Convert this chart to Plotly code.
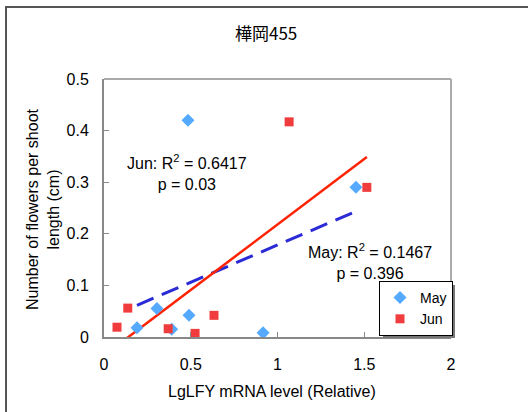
import numpy as np
import plotly.graph_objects as go

# Data
may_x = [0.19, 0.305, 0.39, 0.484, 0.49, 0.917, 1.452]
may_y = [0.018, 0.055, 0.015, 0.42, 0.042, 0.008, 0.29]
jun_x = [0.075, 0.137, 0.37, 0.525, 0.634, 1.067, 1.515]
jun_y = [0.019, 0.056, 0.016, 0.007, 0.042, 0.417, 0.29]

x_ticks = [0, 0.5, 1, 1.5, 2]
x_tick_labels = ["0", "0.5", "1", "1.5", "2"]
y_ticks = [0, 0.1, 0.2, 0.3, 0.4, 0.5]
y_tick_labels = ["0", "0.1", "0.2", "0.3", "0.4", "0.5"]

title_text = "樺岡455"
x_title = "LgLFY mRNA level (Relative)"
y_title = "Number of flowers per shoot<br>length (cm)"
jun_stats = "Jun: R<sup>2</sup> = 0.6417<br>p = 0.03"
may_stats = "May: R<sup>2</sup> = 0.1467<br>p = 0.396"

FONT = "Liberation Sans, Arial, sans-serif"

W, H = 528, 412
L, R, T, B = 104, 451, 79, 337

def fit_line(xs, ys):
    k, b = np.polyfit(xs, ys, 1)
    xx = np.array([min(xs), max(xs)])
    return xx, k * xx + b

fig = go.Figure()

mx, my = fit_line(may_x, may_y)
jx, jy = fit_line(jun_x, jun_y)

fig.add_trace(go.Scatter(x=mx, y=my, mode="lines", showlegend=False,
                         line=dict(color="#2a2ad6", width=3, dash="18px,9px")))
fig.add_trace(go.Scatter(x=jx, y=jy, mode="lines", showlegend=False,
                         line=dict(color="#ff2200", width=2.5)))

fig.add_trace(go.Scatter(x=may_x, y=may_y, mode="markers", name="May",
                         marker=dict(symbol="diamond", size=10, color="#55aaff")))
fig.add_trace(go.Scatter(x=jun_x, y=jun_y, mode="markers", name="Jun",
                         marker=dict(symbol="square", size=9, color="#f03c3c")))

pw = R - L
ph = B - T

def px2paper_x(px):
    return (px - L) / pw

def px2paper_y(py):
    return (B - py) / ph

shapes = [
    # outer chart frame
    dict(type="rect", xref="paper", yref="paper",
         x0=px2paper_x(6), x1=px2paper_x(600), y0=px2paper_y(500), y1=px2paper_y(7),
         line=dict(color="#555555", width=2), fillcolor="rgba(0,0,0,0)", layer="below"),
    # plot area top/right border
    dict(type="line", xref="paper", yref="paper", x0=0, x1=1, y0=1, y1=1,
         line=dict(color="#aaaaaa", width=2)),
    dict(type="line", xref="paper", yref="paper", x0=1, x1=1, y0=0, y1=1,
         line=dict(color="#aaaaaa", width=2)),
    # legend drop shadow
    dict(type="rect", xref="paper", yref="paper",
         x0=px2paper_x(383), x1=px2paper_x(455), y0=px2paper_y(338), y1=px2paper_y(285),
         line=dict(width=0), fillcolor="#777777", layer="above"),
]

annotations = [
    dict(text=title_text, xref="paper", yref="paper", x=px2paper_x(266), y=px2paper_y(33),
         showarrow=False, font=dict(family="Noto Sans CJK JP", size=17, color="black"),
         xanchor="center", yanchor="middle"),
    dict(text=x_title, xref="paper", yref="paper", x=px2paper_x(272), y=px2paper_y(391),
         showarrow=False, font=dict(family=FONT, size=16, color="black"),
         xanchor="center", yanchor="middle"),
    dict(text=y_title, xref="paper", yref="paper", x=px2paper_x(43), y=px2paper_y(209),
         showarrow=False, textangle=-90, font=dict(family=FONT, size=16, color="black"),
         xanchor="center", yanchor="middle"),
    dict(text=jun_stats, x=0.478, y=0.319, showarrow=False, align="center",
         font=dict(family=FONT, size=16, color="black"), xanchor="center", yanchor="middle"),
    dict(text=may_stats, x=1.533, y=0.146, showarrow=False, align="center",
         font=dict(family=FONT, size=16, color="black"), xanchor="center", yanchor="middle"),
]

fig.update_layout(
    width=W, height=H,
    margin=dict(l=L, r=W - R, t=T, b=H - B, pad=0),
    paper_bgcolor="white", plot_bgcolor="white",
    font=dict(family=FONT, size=16, color="black"),
    shapes=shapes, annotations=annotations,
    legend=dict(x=px2paper_x(453), y=px2paper_y(336), xanchor="right", yanchor="bottom",
                bgcolor="white", bordercolor="black", borderwidth=1,
                font=dict(family=FONT, size=14, color="black"),
                itemwidth=30, tracegroupgap=0),
    xaxis=dict(range=[0, 2], tickvals=x_ticks, ticktext=x_tick_labels,
               showgrid=False, zeroline=False, showline=True, linecolor="#888888", linewidth=2,
               ticks="inside", ticklen=5, tickcolor="#888888", tickfont=dict(size=16),
               ticklabelstandoff=12, fixedrange=True),
    yaxis=dict(range=[0, 0.5], tickvals=y_ticks, ticktext=y_tick_labels,
               showgrid=False, zeroline=False, showline=True, linecolor="#888888", linewidth=2,
               ticks="inside", ticklen=5, tickcolor="#888888", tickfont=dict(size=16),
               ticklabelstandoff=10, fixedrange=True),
)

fig.write_html("out.html", config={"displayModeBar": False},
               post_script="document.body.style.margin='0px';")
